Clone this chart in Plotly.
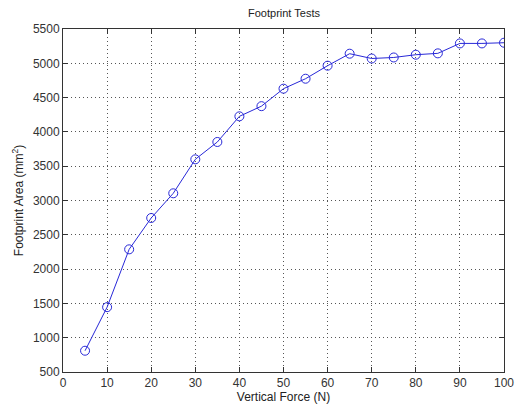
import plotly.graph_objects as go

force = [5, 10, 15, 20, 25, 30, 35, 40, 45, 50, 55, 60, 65, 70, 75, 80, 85, 90, 95, 100]
area = [810, 1445, 2288, 2745, 3105, 3600, 3853, 4227, 4375, 4630, 4775, 4965, 5140, 5070, 5085, 5125, 5145, 5290, 5290, 5300]
x_ticks = [0, 10, 20, 30, 40, 50, 60, 70, 80, 90, 100]
y_ticks = [500, 1000, 1500, 2000, 2500, 3000, 3500, 4000, 4500, 5000, 5500]

FONT = "Liberation Sans, Arial"

fig = go.Figure()
fig.add_trace(go.Scatter(
    x=force, y=area, mode="lines+markers",
    line=dict(color="#2828d8", width=1),
    marker=dict(symbol="circle-open", size=9, color="#2828d8", line=dict(width=1)),
    showlegend=False,
))

axis_common = dict(
    showline=True, linecolor="#333", linewidth=1, mirror="allticks",
    ticks="inside", ticklen=5, tickcolor="#333",
    showgrid=True, gridcolor="#555", griddash="1px,3px", gridwidth=1,
    zeroline=False, automargin=False,
    tickfont=dict(family=FONT, size=12, color="#333"),
)

fig.update_xaxes(range=[0, 100], tickvals=x_ticks,
                 title=dict(text="Vertical Force (N)", standoff=2,
                            font=dict(family=FONT, size=12, color="#222")),
                 **axis_common)
fig.update_yaxes(range=[500, 5500], tickvals=y_ticks,
                 title=dict(text="Footprint Area (mm<sup>2</sup>)", standoff=6,
                            font=dict(family=FONT, size=12, color="#222")),
                 **axis_common)

fig.update_layout(
    width=515, height=409,
    margin=dict(l=63, r=11, t=29, b=37),
    paper_bgcolor="white", plot_bgcolor="white",
    annotations=[dict(text="Footprint Tests", xref="paper", yref="paper",
                      x=0.5, y=1, yshift=8, xanchor="center", yanchor="bottom",
                      showarrow=False, font=dict(family=FONT, size=11, color="#222"))],
)

fig.write_html("out.html", config={"displayModeBar": False},
               post_script="document.body.style.margin='0px';document.body.style.overflow='hidden';")
